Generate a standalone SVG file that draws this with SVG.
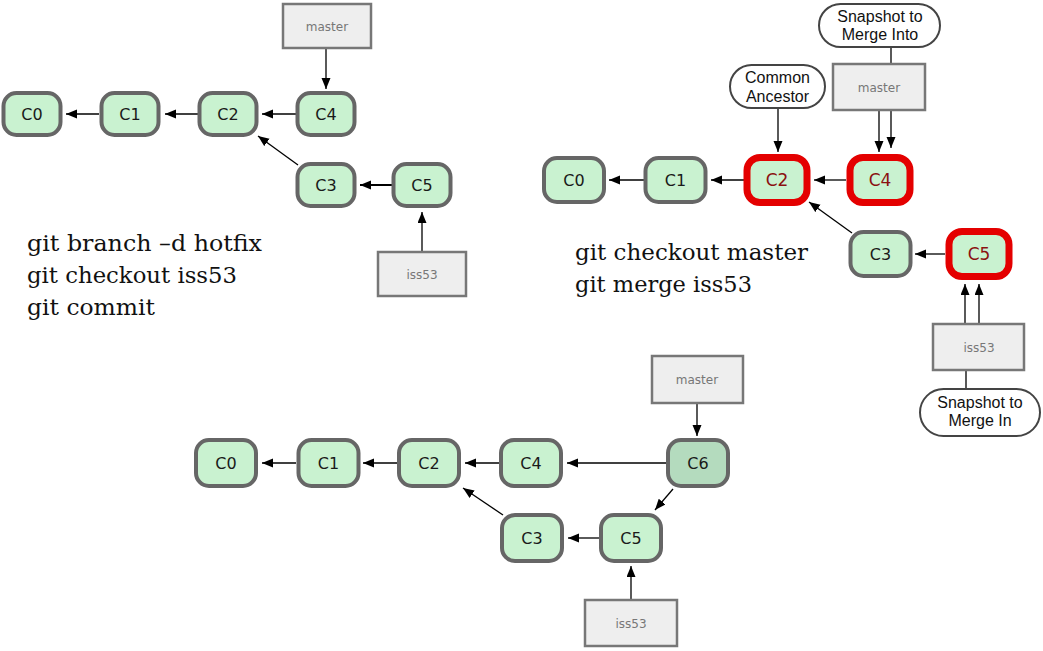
<svg xmlns="http://www.w3.org/2000/svg" width="1043" height="651" viewBox="0 0 1043 651">
<style>
.n{fill:#c9f2d0;stroke:#666;stroke-width:4}
.n6{fill:#b4dbbe;stroke:#666;stroke-width:4}
.nr{fill:#c9f2d0;stroke:#e40000;stroke-width:7}
.lb{font-family:"DejaVu Sans",sans-serif;font-size:16px;fill:#1a1a1a;text-anchor:middle}
.lr{font-family:"DejaVu Sans",sans-serif;font-size:17px;fill:#8b1111;text-anchor:middle}
.br{fill:#eeeeee;stroke:#777;stroke-width:2.5}
.bt{font-family:"DejaVu Sans",sans-serif;font-size:12px;fill:#777;text-anchor:middle}
.pl{fill:#fff;stroke:#444;stroke-width:2}
.pt{font-family:"Liberation Sans",Arial,sans-serif;font-size:16px;fill:#111;text-anchor:middle}
.cmd{font-family:"DejaVu Serif",serif;font-size:22px;fill:#111}
.e{stroke:#000;stroke-width:1.3;fill:none;marker-end:url(#ah)}
.e2{stroke:#000;stroke-width:2;fill:none;marker-end:url(#ah)}
.l{stroke:#000;stroke-width:1.3;fill:none}
</style>
<defs>
<marker id="ah" markerUnits="userSpaceOnUse" markerWidth="12" markerHeight="10" refX="11" refY="4.5" orient="auto">
<path d="M0,0 L11,4.5 L0,9 z" fill="#000"/>
</marker>
</defs>

<!-- connectors -->
<g id="connectors">
<!-- top-left -->
<line class="e" x1="99" y1="114" x2="66" y2="114"/>
<line class="e" x1="198" y1="114" x2="165" y2="114"/>
<line class="e" x1="296" y1="114" x2="262" y2="114"/>
<line class="e" x1="326" y1="49" x2="326" y2="89"/>
<line class="e" x1="298" y1="165" x2="258" y2="136"/>
<line class="e2" x1="392" y1="185" x2="360" y2="185"/>
<line class="e" x1="422" y1="251" x2="422" y2="212"/>
<!-- top-right -->
<line class="e" x1="644" y1="180" x2="609" y2="180"/>
<line class="e" x1="744" y1="180" x2="711" y2="180"/>
<line class="e" x1="846" y1="180" x2="814" y2="180"/>
<line class="e" x1="778" y1="109" x2="778" y2="152"/>
<line class="e" x1="879" y1="111" x2="879" y2="152"/>
<line class="e" x1="891" y1="111" x2="891" y2="148"/>
<line class="l" x1="891" y1="48" x2="891" y2="63"/>
<line class="e" x1="852" y1="233" x2="809" y2="202"/>
<line class="e" x1="945" y1="254" x2="915" y2="254"/>
<line class="e" x1="965" y1="323" x2="965" y2="284"/>
<line class="e" x1="979" y1="323" x2="979" y2="284"/>
<line class="l" x1="966" y1="371" x2="966" y2="388"/>
<!-- bottom -->
<line class="e" x1="296" y1="463" x2="262" y2="463"/>
<line class="e" x1="397" y1="463" x2="363" y2="463"/>
<line class="e" x1="499" y1="463" x2="465" y2="463"/>
<line class="e" x1="666" y1="463" x2="567" y2="463"/>
<line class="e" x1="697" y1="404" x2="697" y2="436"/>
<line class="e" x1="673" y1="489" x2="655" y2="510"/>
<line class="e" x1="503" y1="515" x2="463" y2="488"/>
<line class="e" x1="599" y1="538" x2="568" y2="538"/>
<line class="e" x1="631" y1="599" x2="631" y2="566"/>
</g>

<!-- top-left diagram -->
<g id="tl-master"><rect class="br" x="283" y="4" width="88" height="44"/><text class="bt" x="327" y="31">master</text></g>
<g id="tl-C0"><rect class="n" x="3.5" y="93" width="57" height="42" rx="13"/><text class="lb" x="32" y="120">C0</text></g>
<g id="tl-C1"><rect class="n" x="101.5" y="93" width="57" height="42" rx="13"/><text class="lb" x="130" y="120">C1</text></g>
<g id="tl-C2"><rect class="n" x="199.5" y="93" width="57" height="42" rx="13"/><text class="lb" x="228" y="120">C2</text></g>
<g id="tl-C4"><rect class="n" x="297.5" y="93" width="57" height="42" rx="13"/><text class="lb" x="326" y="120">C4</text></g>
<g id="tl-C3"><rect class="n" x="297.5" y="164" width="57" height="42" rx="13"/><text class="lb" x="326" y="191">C3</text></g>
<g id="tl-C5"><rect class="n" x="393.5" y="164" width="57" height="42" rx="13"/><text class="lb" x="422" y="191">C5</text></g>
<g id="tl-iss53"><rect class="br" x="378" y="252" width="88" height="44"/><text class="bt" x="422" y="279">iss53</text></g>
<g id="tl-cmd">
<text class="cmd" x="27" y="251" textLength="235" lengthAdjust="spacingAndGlyphs">git branch –d hotfix</text>
<text class="cmd" x="27" y="283" textLength="210" lengthAdjust="spacingAndGlyphs">git checkout iss53</text>
<text class="cmd" x="27" y="315" textLength="128" lengthAdjust="spacingAndGlyphs">git commit</text>
</g>

<!-- top-right diagram -->
<g id="tr-into"><rect class="pl" x="819" y="4" width="121" height="43" rx="21.5"/><text class="pt" x="880" y="22">Snapshot to</text><text class="pt" x="880" y="40">Merge Into</text></g>
<g id="tr-ancestor"><rect class="pl" x="730" y="65" width="95" height="43" rx="21.5"/><text class="pt" x="777.5" y="83">Common</text><text class="pt" x="777.5" y="102">Ancestor</text></g>
<g id="tr-master"><rect class="br" x="833" y="64" width="92" height="46"/><text class="bt" x="879" y="92">master</text></g>
<g id="tr-C0"><rect class="n" x="544" y="158" width="60" height="44" rx="13"/><text class="lb" x="574" y="186">C0</text></g>
<g id="tr-C1"><rect class="n" x="645.5" y="158" width="60" height="44" rx="13"/><text class="lb" x="675.5" y="186">C1</text></g>
<g id="tr-C2"><rect class="nr" x="747" y="157.5" width="60" height="45" rx="13"/><text class="lr" x="777" y="186">C2</text></g>
<g id="tr-C4"><rect class="nr" x="850" y="157.5" width="60" height="45" rx="13"/><text class="lr" x="880" y="186">C4</text></g>
<g id="tr-C3"><rect class="n" x="850.5" y="232" width="60" height="44" rx="13"/><text class="lb" x="880.5" y="260">C3</text></g>
<g id="tr-C5"><rect class="nr" x="949" y="231.5" width="60" height="45" rx="13"/><text class="lr" x="979" y="260">C5</text></g>
<g id="tr-iss53"><rect class="br" x="933" y="324" width="91" height="46"/><text class="bt" x="979" y="352">iss53</text></g>
<g id="tr-in"><rect class="pl" x="920" y="389" width="120" height="47" rx="23.5"/><text class="pt" x="980" y="408">Snapshot to</text><text class="pt" x="980" y="426">Merge In</text></g>
<g id="tr-cmd">
<text class="cmd" x="575" y="260" textLength="233" lengthAdjust="spacingAndGlyphs">git checkout master</text>
<text class="cmd" x="575" y="292" textLength="177" lengthAdjust="spacingAndGlyphs">git merge iss53</text>
</g>

<!-- bottom diagram -->
<g id="b-master"><rect class="br" x="652" y="356" width="91" height="47"/><text class="bt" x="697" y="384">master</text></g>
<g id="b-C0"><rect class="n" x="196" y="440" width="60" height="46" rx="13"/><text class="lb" x="226" y="469">C0</text></g>
<g id="b-C1"><rect class="n" x="298.5" y="440" width="60" height="46" rx="13"/><text class="lb" x="328.5" y="469">C1</text></g>
<g id="b-C2"><rect class="n" x="399" y="440" width="60" height="46" rx="13"/><text class="lb" x="429" y="469">C2</text></g>
<g id="b-C4"><rect class="n" x="501" y="440" width="60" height="46" rx="13"/><text class="lb" x="531" y="469">C4</text></g>
<g id="b-C6"><rect class="n6" x="668" y="440" width="60" height="46" rx="13"/><text class="lb" x="698" y="469">C6</text></g>
<g id="b-C3"><rect class="n" x="502" y="515" width="60" height="46" rx="13"/><text class="lb" x="532" y="544">C3</text></g>
<g id="b-C5"><rect class="n" x="601" y="515" width="60" height="46" rx="13"/><text class="lb" x="631" y="544">C5</text></g>
<g id="b-iss53"><rect class="br" x="585" y="600" width="92" height="46"/><text class="bt" x="631" y="628">iss53</text></g>
</svg>
